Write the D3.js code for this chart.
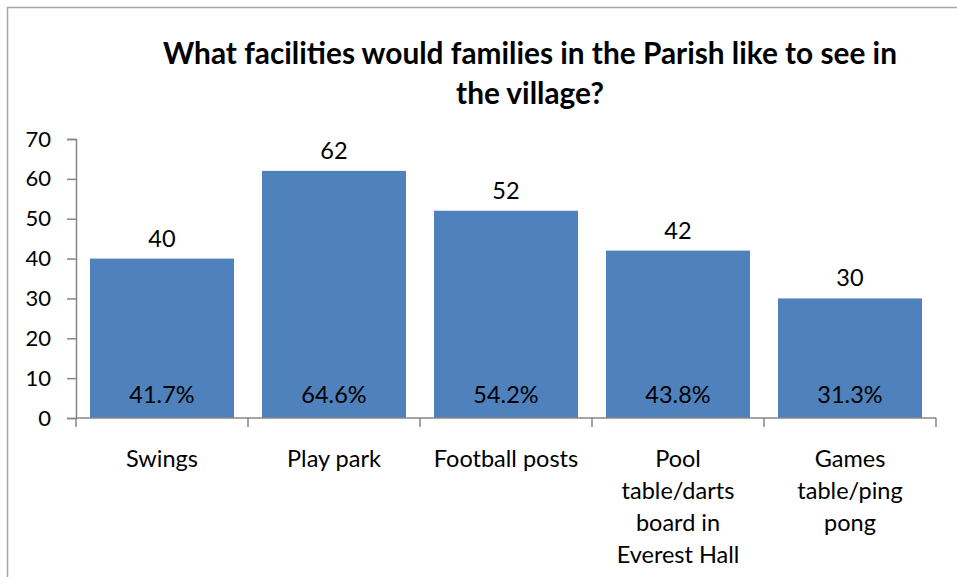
<!DOCTYPE html>
<html>
<head>
<meta charset="utf-8">
<script src="https://cdn.jsdelivr.net/npm/d3@7"></script>
<style>
html,body{margin:0;padding:0;background:#fff;}
svg{display:block;}
text{font-family:Lato,"Open Sans",sans-serif;fill:#000;}
</style>
</head>
<body>
<svg id="chart" width="957" height="577"></svg>
<script>
const categories = ["Swings", "Play park", "Football posts", "Pool table/darts board in Everest Hall", "Games table/ping pong"];
const categoryLines = [["Swings"], ["Play park"], ["Football posts"], ["Pool", "table/darts", "board in", "Everest Hall"], ["Games", "table/ping", "pong"]];
const values = [40, 62, 52, 42, 30];
const percentLabels = ["41.7%", "64.6%", "54.2%", "43.8%", "31.3%"];
const yTicks = [0, 10, 20, 30, 40, 50, 60, 70];
const titleLines = ["What facilities would families in the Parish like to see in", "the village?"];

const svg = d3.select("#chart");
const labelSize = "23.5px";

// outer chart border
svg.append("rect").attr("x", 7.5).attr("y", 7.5).attr("width", 970).attr("height", 590)
  .attr("fill", "#fff").attr("stroke", "#a6a6a6").attr("stroke-width", 1.5);

const plot = {left: 76, right: 936, top: 139, bottom: 418};

const x = d3.scaleBand().domain(categories).range([plot.left, plot.right]).paddingInner(0.163).paddingOuter(0.0815);
const y = d3.scaleLinear().domain([0, 70]).range([plot.bottom, plot.top]);

// bars
svg.append("g").selectAll("rect").data(values).join("rect")
  .attr("x", (d, i) => x(categories[i]))
  .attr("y", d => y(d))
  .attr("width", x.bandwidth())
  .attr("height", d => y(0) - y(d))
  .attr("fill", "#4f81bd");

// y axis
const yAxis = d3.axisLeft(y).tickValues(yTicks).tickSize(9).tickPadding(16).tickFormat(d3.format("d"));
const gy = svg.append("g").attr("transform", `translate(${plot.left},0)`).call(yAxis);
gy.select(".domain").attr("stroke", "#868686").attr("stroke-width", 1.5);
gy.selectAll(".tick line").attr("stroke", "#868686").attr("stroke-width", 1.5);
gy.selectAll(".tick text").style("font-size", "22px").style("font-family", "Lato, sans-serif").attr("fill", "#000");

// x axis line and ticks at band boundaries
const boundaries = d3.range(categories.length + 1).map(i => plot.left + i * (plot.right - plot.left) / categories.length);
svg.append("line").attr("x1", plot.left).attr("x2", plot.right).attr("y1", y(0)).attr("y2", y(0))
  .attr("stroke", "#868686").attr("stroke-width", 1.5);
svg.append("g").selectAll("line").data(boundaries).join("line")
  .attr("x1", d => d).attr("x2", d => d).attr("y1", y(0)).attr("y2", y(0) + 9)
  .attr("stroke", "#868686").attr("stroke-width", 1.5);

// value labels above bars
svg.append("g").selectAll("text").data(values).join("text")
  .attr("x", (d, i) => x(categories[i]) + x.bandwidth() / 2)
  .attr("y", d => y(d) - 12)
  .attr("text-anchor", "middle")
  .style("font-size", labelSize)
  .text(d => d);

// percentage labels inside bars
svg.append("g").selectAll("text").data(percentLabels).join("text")
  .attr("x", (d, i) => x(categories[i]) + x.bandwidth() / 2)
  .attr("y", y(0) - 15)
  .attr("text-anchor", "middle")
  .style("font-size", labelSize)
  .text(d => d);

// category labels
const cat = svg.append("g").selectAll("text").data(categoryLines).join("text")
  .attr("text-anchor", "middle")
  .style("font-size", labelSize);
cat.each(function(lines, i) {
  const t = d3.select(this);
  lines.forEach((ln, j) => {
    t.append("tspan").attr("x", x(categories[i]) + x.bandwidth() / 2).attr("y", 467 + j * 32).text(ln);
  });
});

// title
svg.append("g").selectAll("text").data(titleLines).join("text")
  .attr("x", 530)
  .attr("y", (d, i) => 64 + i * 40)
  .attr("text-anchor", "middle")
  .style("font-size", "29.8px")
  .style("font-weight", "bold")
  .text(d => d);
</script>
</body>
</html>
